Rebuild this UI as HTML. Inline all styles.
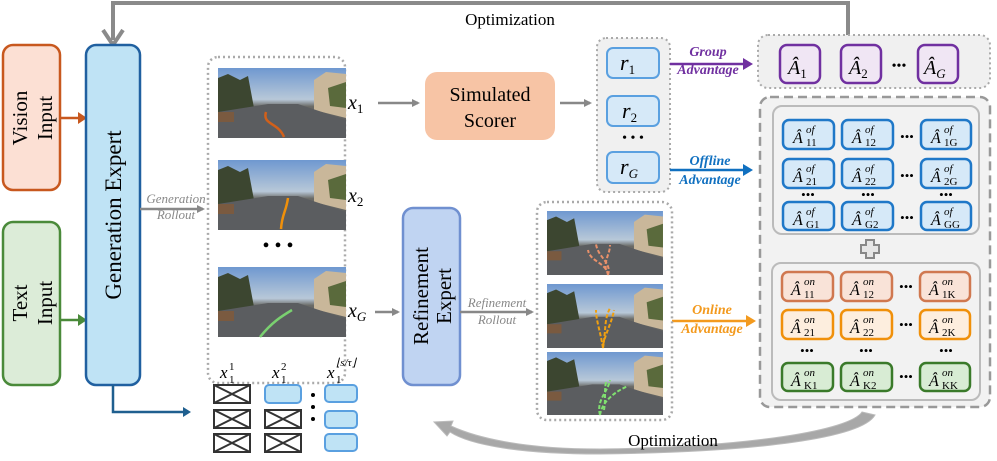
<!DOCTYPE html>
<html><head><meta charset="utf-8"><style>
html,body{margin:0;padding:0;background:#fff}
svg{display:block}
text{font-family:"Liberation Serif",serif}
.m{font-family:"Liberation Serif",serif;font-style:italic}
.n{font-family:"Liberation Serif",serif;font-style:normal}
</style></head><body>
<svg width="997" height="461" viewBox="0 0 997 461" xmlns="http://www.w3.org/2000/svg">
<defs>
<linearGradient id="sky" x1="0" y1="0" x2="0" y2="1">
<stop offset="0" stop-color="#6f98d0"/><stop offset="0.45" stop-color="#b8c8d8"/><stop offset="0.55" stop-color="#6a6a66"/><stop offset="1" stop-color="#55575a"/></linearGradient>
<g id="road">
<rect x="0" y="0" width="128" height="70" fill="url(#sky)"/>
<path d="M0 10 L10 6 L22 12 L30 8 L36 40 L0 48Z" fill="#3c4630"/>
<path d="M96 12 L108 4 L128 6 L128 50 L96 42Z" fill="#c9b79a"/>
<path d="M110 20 L128 14 L128 40 L112 38Z" fill="#5a6a3c"/>
<path d="M0 44 L50 36 L80 36 L128 52 L128 70 L0 70Z" fill="#5b5d60"/>
<rect x="0" y="44" width="16" height="10" fill="#7a5a40"/>
</g>
<marker id="ag" markerWidth="8" markerHeight="8" refX="6" refY="4" orient="auto" markerUnits="userSpaceOnUse"><path d="M0 0 L8 4 L0 8Z" fill="#888"/></marker>
</defs>

<path d="M113 40 V3 H848 V35" fill="none" stroke="#8a8a8a" stroke-width="4"/>
<path d="M103 30 L113 45 L123 30" fill="none" stroke="#8a8a8a" stroke-width="4"/>
<text x="510" y="25" font-size="17" text-anchor="middle">Optimization</text>

<rect x="3" y="45" width="57" height="145" rx="10" fill="#fce0d4" stroke="#c8581e" stroke-width="2.5"/>
<text transform="translate(30,118) rotate(-90)" font-size="21" text-anchor="middle"><tspan x="0" y="-3">Vision</tspan><tspan x="0" y="22">Input</tspan></text>
<rect x="3" y="222" width="57" height="163" rx="10" fill="#dcecd8" stroke="#4a8a3a" stroke-width="2.5"/>
<text transform="translate(30,303) rotate(-90)" font-size="21" text-anchor="middle"><tspan x="0" y="-3">Text</tspan><tspan x="0" y="22">Input</tspan></text>
<path d="M60 118 H80" stroke="#c8581e" stroke-width="2.5"/><path d="M78 112 L87 118 L78 124Z" fill="#c8581e"/>
<path d="M60 320 H80" stroke="#4a8a3a" stroke-width="2.5"/><path d="M78 314 L87 320 L78 326Z" fill="#4a8a3a"/>

<rect x="86" y="45" width="54" height="340" rx="10" fill="#bfe3f5" stroke="#2060a0" stroke-width="2.5"/>
<text transform="translate(121,215) rotate(-90)" font-size="23" text-anchor="middle">Generation Expert</text>

<path d="M113 385 V412 H184" fill="none" stroke="#1f5f8f" stroke-width="2.5"/><path d="M183 407 L191 412 L183 417Z" fill="#1f5f8f"/>

<path d="M140 209 H203" stroke="#888" stroke-width="2.5" marker-end="url(#ag)"/>
<text x="176" y="203" font-size="13" font-style="italic" fill="#888" text-anchor="middle">Generation</text>
<text x="176" y="219" font-size="13" font-style="italic" fill="#888" text-anchor="middle">Rollout</text>

<rect x="208" y="57" width="137" height="326" rx="10" fill="none" stroke="#aaa" stroke-width="2.5" stroke-dasharray="2 3"/>
<use href="#road" x="218" y="68"/>
<path d="M284 137 C278 122 262 125 266 112" fill="none" stroke="#d2601a" stroke-width="2.5"/>
<use href="#road" x="218" y="160"/>
<path d="M281 229 C282 214 286 212 288 198" fill="none" stroke="#f0900a" stroke-width="2.5"/>
<text x="278" y="252" font-size="20" text-anchor="middle">• • •</text>
<use href="#road" x="218" y="267"/>
<path d="M260 337 C272 322 282 316 292 310" fill="none" stroke="#7ad070" stroke-width="2.5"/>
<text class="m" x="348" y="109" font-size="20">x<tspan class="n" font-size="13" dy="4">1</tspan></text>
<text class="m" x="348" y="202" font-size="20">x<tspan class="n" font-size="13" dy="4">2</tspan></text>
<text class="m" x="348" y="317" font-size="20">x<tspan font-size="13" dy="4">G</tspan></text>

<path d="M378 103 H418" stroke="#888" stroke-width="2.5" marker-end="url(#ag)"/>
<rect x="425" y="72" width="130" height="68" rx="12" fill="#f7c4a5"/>
<text x="490" y="101" font-size="20" text-anchor="middle">Simulated</text>
<text x="490" y="127" font-size="20" text-anchor="middle">Scorer</text>
<path d="M560 103 H590" stroke="#888" stroke-width="2.5" marker-end="url(#ag)"/>

<rect x="597" y="38" width="73" height="154" rx="9" fill="#f0f0f0" stroke="#aaa" stroke-width="2" stroke-dasharray="2 3"/>
<rect x="607" y="48" width="52" height="30" rx="6" fill="#d6e9f8" stroke="#5aa0e0" stroke-width="2"/>
<rect x="607" y="96" width="52" height="30" rx="6" fill="#d6e9f8" stroke="#5aa0e0" stroke-width="2"/>
<rect x="607" y="152" width="52" height="31" rx="6" fill="#d6e9f8" stroke="#5aa0e0" stroke-width="2"/>
<text class="m" x="620" y="70" font-size="22">r<tspan class="n" font-size="13" dy="4">1</tspan></text>
<text class="m" x="622" y="118" font-size="22">r<tspan class="n" font-size="13" dy="4">2</tspan></text>
<text class="m" x="620" y="174" font-size="22">r<tspan font-size="13" dy="4">G</tspan></text>
<text x="633" y="142" font-size="14" text-anchor="middle">• • •</text>

<path d="M670 64 H745" stroke="#7030a0" stroke-width="2.5"/><path d="M743 58 L753 64 L743 70Z" fill="#7030a0"/>
<text x="708" y="56" font-size="14" font-weight="bold" font-style="italic" fill="#7030a0" text-anchor="middle">Group</text>
<text x="708" y="74" font-size="14" font-weight="bold" font-style="italic" fill="#7030a0" text-anchor="middle">Advantage</text>
<path d="M670 170 H745" stroke="#1070c0" stroke-width="2.5"/><path d="M743 164 L753 170 L743 176Z" fill="#1070c0"/>
<text x="710" y="165" font-size="14" font-weight="bold" font-style="italic" fill="#1070c0" text-anchor="middle">Offline</text>
<text x="710" y="184" font-size="14" font-weight="bold" font-style="italic" fill="#1070c0" text-anchor="middle">Advantage</text>

<rect x="758" y="35" width="232" height="53" rx="10" fill="#f0f0f0" stroke="#aaa" stroke-width="2" stroke-dasharray="2 3"/>
<g fill="#f0e6f4" stroke="#7030a0" stroke-width="2.5">
<rect x="780" y="45" width="40" height="38" rx="7"/><rect x="841" y="45" width="40" height="38" rx="7"/><rect x="918" y="45" width="40" height="38" rx="7"/></g>
<text class="m" x="788" y="74" font-size="20">Â<tspan class="n" font-size="13" dy="4">1</tspan></text>
<text class="m" x="849" y="74" font-size="20">Â<tspan class="n" font-size="13" dy="4">2</tspan></text>
<text class="m" x="924" y="74" font-size="20">Â<tspan font-size="13" dy="4">G</tspan></text>
<text x="899" y="70" font-size="14" text-anchor="middle">•••</text>

<rect x="760" y="97" width="230" height="310" rx="10" fill="#f2f2f2" stroke="#999" stroke-width="2.5" stroke-dasharray="9 5"/>
<rect x="773" y="106" width="206" height="128" rx="9" fill="#f2f2f2" stroke="#bbb" stroke-width="2"/>
<g fill="#d6e9f8" stroke="#1f78c8" stroke-width="2.5">
<rect x="783" y="120" width="51" height="29" rx="6"/><rect x="842" y="120" width="51" height="29" rx="6"/><rect x="921" y="120" width="50" height="29" rx="6"/>
<rect x="783" y="159" width="51" height="29" rx="6"/><rect x="842" y="159" width="51" height="29" rx="6"/><rect x="921" y="159" width="50" height="29" rx="6"/>
<rect x="783" y="202" width="51" height="28" rx="6"/><rect x="842" y="202" width="51" height="28" rx="6"/><rect x="921" y="202" width="50" height="28" rx="6"/>
</g>
<g font-size="16" class="m">
<text x="793" y="143">Â</text><text x="852" y="143">Â</text><text x="931" y="143">Â</text>
<text x="793" y="182">Â</text><text x="852" y="182">Â</text><text x="931" y="182">Â</text>
<text x="793" y="225">Â</text><text x="852" y="225">Â</text><text x="931" y="225">Â</text>
</g>
<g font-size="11" class="m">
<text x="806" y="133">of</text><text x="865" y="133">of</text><text x="944" y="133">of</text>
<text x="806" y="172">of</text><text x="865" y="172">of</text><text x="944" y="172">of</text>
<text x="806" y="215">of</text><text x="865" y="215">of</text><text x="944" y="215">of</text>
</g>
<g font-size="11" class="n">
<text x="806" y="146">11</text><text x="865" y="146">12</text><text x="944" y="146">1G</text>
<text x="806" y="185">21</text><text x="865" y="185">22</text><text x="944" y="185">2G</text>
<text x="806" y="228">G1</text><text x="865" y="228">G2</text><text x="944" y="228">GG</text>
</g>
<g font-size="13" text-anchor="middle"><text x="907" y="141">•••</text><text x="907" y="180">•••</text><text x="907" y="222">•••</text>
<text x="808" y="199">•••</text><text x="868" y="199">•••</text><text x="946" y="199">•••</text></g>

<path d="M866 240 h8 v5 h5 v8 h-5 v5 h-8 v-5 h-5 v-8 h5z" fill="#e6e6e6" stroke="#888" stroke-width="2"/>

<rect x="772" y="263" width="208" height="137" rx="9" fill="#f2f2f2" stroke="#bbb" stroke-width="2"/>
<g stroke-width="2.5">
<g fill="#f9e3d8" stroke="#d07850"><rect x="782" y="272" width="51" height="29" rx="6"/><rect x="841" y="272" width="51" height="29" rx="6"/><rect x="920" y="272" width="50" height="29" rx="6"/></g>
<g fill="#fdeede" stroke="#f0900a"><rect x="782" y="310" width="51" height="29" rx="6"/><rect x="841" y="310" width="51" height="29" rx="6"/><rect x="920" y="310" width="50" height="29" rx="6"/></g>
<g fill="#d8ecd4" stroke="#3a7a2a"><rect x="782" y="363" width="51" height="28" rx="6"/><rect x="841" y="363" width="51" height="28" rx="6"/><rect x="920" y="363" width="50" height="28" rx="6"/></g>
</g>
<g font-size="16" class="m">
<text x="791" y="295">Â</text><text x="850" y="295">Â</text><text x="929" y="295">Â</text>
<text x="791" y="333">Â</text><text x="850" y="333">Â</text><text x="929" y="333">Â</text>
<text x="791" y="386">Â</text><text x="850" y="386">Â</text><text x="929" y="386">Â</text>
</g>
<g font-size="11" class="m">
<text x="804" y="285">on</text><text x="863" y="285">on</text><text x="942" y="285">on</text>
<text x="804" y="323">on</text><text x="863" y="323">on</text><text x="942" y="323">on</text>
<text x="804" y="376">on</text><text x="863" y="376">on</text><text x="942" y="376">on</text>
</g>
<g font-size="11" class="n">
<text x="804" y="298">11</text><text x="863" y="298">12</text><text x="942" y="298">1K</text>
<text x="804" y="336">21</text><text x="863" y="336">22</text><text x="942" y="336">2K</text>
<text x="804" y="389">K1</text><text x="863" y="389">K2</text><text x="942" y="389">KK</text>
</g>
<g font-size="13" text-anchor="middle"><text x="906" y="291">•••</text><text x="906" y="329">•••</text><text x="906" y="381">•••</text>
<text x="807" y="355">•••</text><text x="866" y="355">•••</text><text x="946" y="355">•••</text></g>

<path d="M672 321 H748" stroke="#f39a1e" stroke-width="2.5"/><path d="M746 315 L756 321 L746 327Z" fill="#f39a1e"/>
<text x="712" y="314" font-size="14" font-weight="bold" font-style="italic" fill="#f39a1e" text-anchor="middle">Online</text>
<text x="712" y="333" font-size="14" font-weight="bold" font-style="italic" fill="#f39a1e" text-anchor="middle">Advantage</text>

<path d="M375 312 H398" stroke="#888" stroke-width="2.5" marker-end="url(#ag)"/>
<rect x="403" y="208" width="57" height="177" rx="10" fill="#c0d4f2" stroke="#7090d0" stroke-width="2.5"/>
<text transform="translate(431,296) rotate(-90)" font-size="21" text-anchor="middle"><tspan x="0" y="-3">Refinement</tspan><tspan x="0" y="20">Expert</tspan></text>
<path d="M460 312 H532" stroke="#888" stroke-width="2.5" marker-end="url(#ag)"/>
<text x="497" y="307" font-size="13" font-style="italic" fill="#888" text-anchor="middle">Refinement</text>
<text x="497" y="324" font-size="13" font-style="italic" fill="#888" text-anchor="middle">Rollout</text>

<rect x="537" y="202" width="135" height="218" rx="10" fill="none" stroke="#aaa" stroke-width="2.5" stroke-dasharray="2 3"/>
<use href="#road" x="547" y="211" transform="translate(547,211) scale(0.906,0.914) translate(-547,-211)"/>
<path d="M608 275 C606 262 590 262 588 250 M608 275 C612 262 598 258 596 244 M606 270 C604 260 610 254 610 245" fill="none" stroke="#e8906a" stroke-width="2" stroke-dasharray="4 2"/>
<use href="#road" x="547" y="284" transform="translate(547,284) scale(0.906,0.914) translate(-547,-284)"/>
<path d="M603 348 C600 330 596 320 596 310 M603 348 C606 330 604 320 610 308 M603 345 C606 332 612 322 614 310" fill="none" stroke="#f0a010" stroke-width="2" stroke-dasharray="4 2"/>
<use href="#road" x="547" y="352" transform="translate(547,352) scale(0.906,0.9) translate(-547,-352)"/>
<path d="M600 415 C596 400 608 392 610 380 M600 415 C602 402 614 392 628 386 M604 410 C606 398 604 392 606 382" fill="none" stroke="#80e070" stroke-width="2" stroke-dasharray="4 2"/>

<path d="M862 412 L875 415 C862 438 760 452 600 454 C520 454 470 445 450 432 L447 436 L434 422 L453 421 L451 426 C475 437 520 449 600 449 C752 447 850 430 862 412Z" fill="#a8a8a8" stroke="#bbb" stroke-width="1"/>
<text x="673" y="446" font-size="17" text-anchor="middle">Optimization</text>

<text class="m" x="220" y="378" font-size="17">x</text><text class="n" x="229" y="370" font-size="11">1</text><text class="n" x="229" y="383" font-size="11">1</text>
<text class="m" x="272" y="378" font-size="17">x</text><text class="n" x="281" y="370" font-size="11">2</text><text class="n" x="281" y="383" font-size="11">1</text>
<text class="m" x="327" y="378" font-size="17">x</text><text class="m" x="336" y="366" font-size="11">⌊s/τ⌋</text><text class="n" x="336" y="383" font-size="11">1</text>
<g fill="#fff" stroke="#333" stroke-width="2">
<rect x="214" y="385" width="36" height="18"/><path d="M214 385 L250 403 M250 385 L214 403"/>
<rect x="214" y="410" width="36" height="18"/><path d="M214 410 L250 428 M250 410 L214 428"/>
<rect x="214" y="434" width="36" height="18"/><path d="M214 434 L250 452 M250 434 L214 452"/>
<rect x="265" y="410" width="36" height="18"/><path d="M265 410 L301 428 M301 410 L265 428"/>
<rect x="265" y="434" width="36" height="18"/><path d="M265 434 L301 452 M301 434 L265 452"/>
</g>
<g fill="#bfe3f5" stroke="#5aa0e0" stroke-width="2">
<rect x="265" y="385" width="36" height="18" rx="4"/>
<rect x="325" y="385" width="32" height="17" rx="4"/>
<rect x="325" y="411" width="32" height="17" rx="4"/>
<rect x="325" y="434" width="32" height="17" rx="4"/>
</g>
<g fill="#000"><circle cx="313" cy="395" r="2"/><circle cx="313" cy="407" r="2"/><circle cx="313" cy="419" r="2"/></g>
</svg>
</body></html>
